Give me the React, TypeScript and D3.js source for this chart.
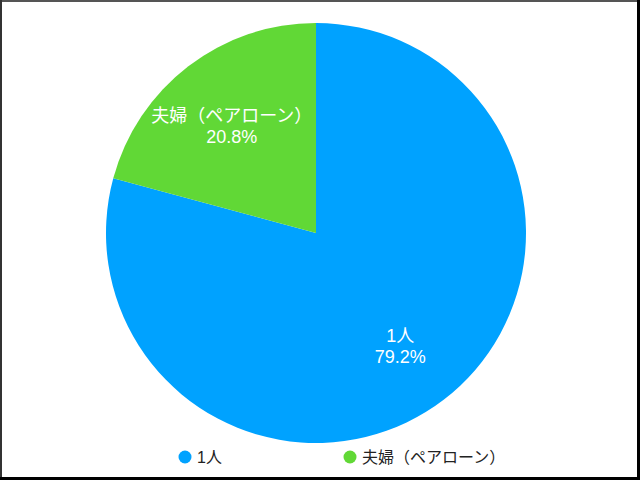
import React, { useRef, useEffect } from 'react';
import * as d3 from 'd3';

const categories = ['1人', '夫婦（ペアローン）'];
const shares = [79.2, 20.8];
const colors = ['#00A2FF', '#61D836'];

const width = 640;
const height = 480;
const FONT = '"Liberation Sans", "Noto Sans CJK JP", sans-serif';

const App: React.FC = () => {
  const svgRef = useRef<SVGSVGElement>(null);

  useEffect(() => {
    const svg = d3.select(svgRef.current);
    svg.selectAll('*').remove();

    svg.append('rect')
      .attr('width', width)
      .attr('height', height)
      .attr('fill', '#fff');

    const cx = 316;
    const cy = 233;
    const radius = 210;

    const data = categories.map((name, i) => ({ name, value: shares[i], color: colors[i] }));

    const pie = d3.pie<{ name: string; value: number; color: string }>()
      .sort(null)
      .value(d => d.value);

    const arc = d3.arc<d3.PieArcDatum<{ name: string; value: number; color: string }>>()
      .innerRadius(0)
      .outerRadius(radius);

    const labelArc = d3.arc<d3.PieArcDatum<{ name: string; value: number; color: string }>>()
      .innerRadius(radius * 1.32)
      .outerRadius(0);

    const g = svg.append('g').attr('transform', `translate(${cx},${cy})`);
    const arcs = pie(data);

    g.selectAll('path.slice')
      .data(arcs)
      .enter()
      .append('path')
      .attr('class', 'slice')
      .attr('d', arc)
      .attr('fill', d => d.data.color);

    // Slice labels
    arcs.forEach(d => {
      const [lx, ly] = labelArc.centroid(d);
      const t = g.append('text')
        .attr('x', lx)
        .attr('y', ly)
        .attr('text-anchor', 'middle')
        .style('font-family', FONT)
        .style('font-size', '18px')
        .style('fill', '#fff');
      t.append('tspan').attr('x', lx).attr('dy', '-0.05em').text(d.data.name);
      t.append('tspan').attr('x', lx).attr('dy', '1.15em').text(`${d.data.value.toFixed(1)}%`);
    });

    // Legend
    const legendX = [185, 350];
    data.forEach((d, i) => {
      svg.append('circle')
        .attr('cx', legendX[i])
        .attr('cy', 457)
        .attr('r', 6.5)
        .attr('fill', d.color);
      svg.append('text')
        .attr('x', legendX[i] + 12)
        .attr('y', 457)
        .attr('dominant-baseline', 'central')
        .style('font-family', FONT)
        .style('font-size', '16px')
        .style('fill', '#222')
        .text(d.name);
    });

    // Frame
    svg.append('line').attr('x1', 0).attr('x2', width).attr('y1', 1).attr('y2', 1)
      .attr('stroke', '#555').attr('stroke-width', 2);
    svg.append('line').attr('x1', 1).attr('x2', 1).attr('y1', 0).attr('y2', height)
      .attr('stroke', '#333').attr('stroke-width', 2);
    svg.append('line').attr('x1', width - 1.5).attr('x2', width - 1.5).attr('y1', 0).attr('y2', height)
      .attr('stroke', '#000').attr('stroke-width', 3);
    svg.append('line').attr('x1', 0).attr('x2', width).attr('y1', height - 1.5).attr('y2', height - 1.5)
      .attr('stroke', '#000').attr('stroke-width', 3);
  }, []);

  return (
    <svg
      ref={svgRef}
      width={width}
      height={height}
      style={{ position: 'absolute', left: 0, top: 0 }}
    />
  );
};

export default App;
